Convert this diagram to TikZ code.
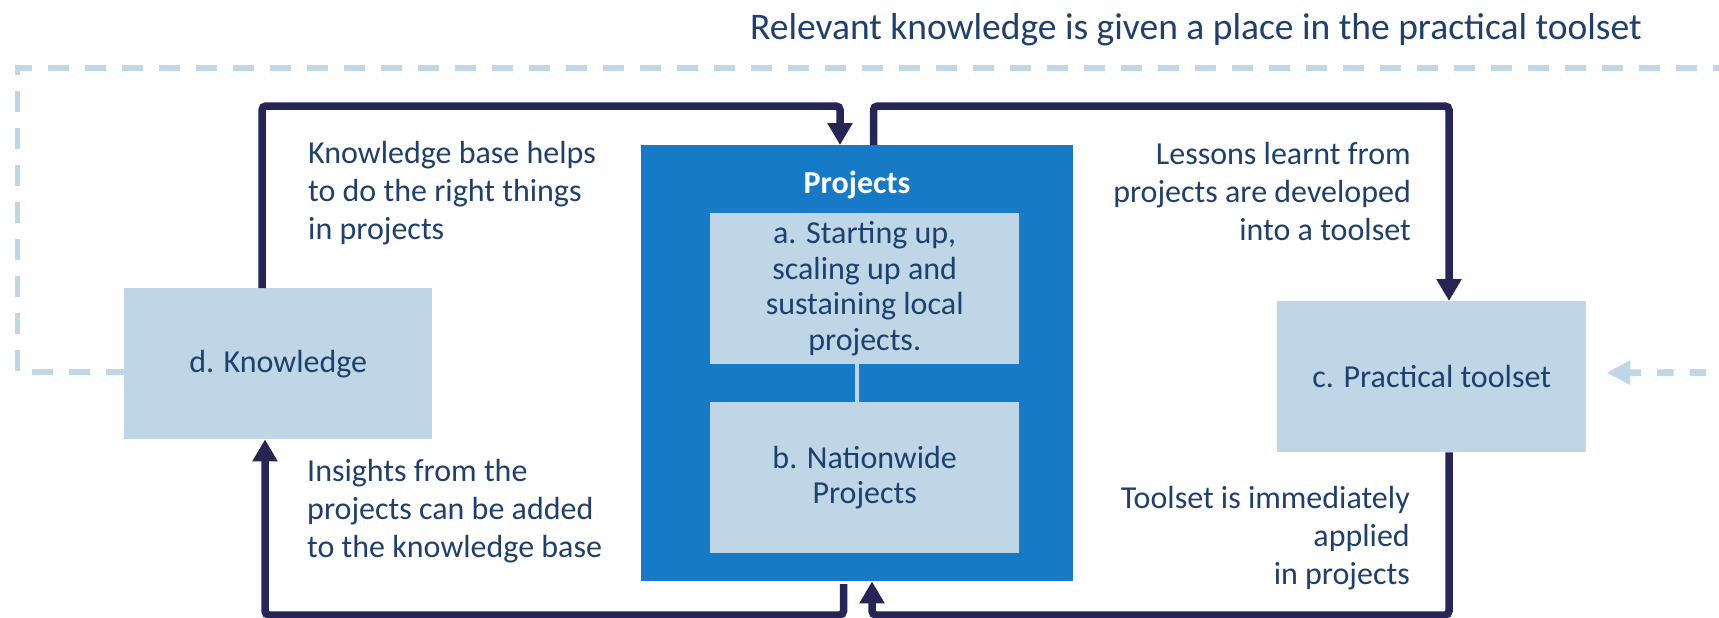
\documentclass[tikz,border=0pt]{standalone}
\usepackage{fontspec}
\setmainfont{Carlito}
\usetikzlibrary{arrows.meta}
\definecolor{navy}{HTML}{262556}
\definecolor{txtblue}{HTML}{1F3F6E}
\definecolor{projblue}{HTML}{167AC6}
\definecolor{paleblue}{HTML}{BFD6E6}

\begin{document}
\begin{tikzpicture}[x=1pt,y=-1pt,
  lightbox/.style={fill=paleblue, draw=none, minimum width=309pt, minimum height=151pt,
    inner sep=0pt, anchor=north west, text=txtblue,
    font=\fontsize{32}{35.5}\selectfont, align=center},
  flow/.style={draw=navy, line width=7.5pt, rounded corners=4pt,
    -{Triangle[length=22pt,width=24pt]}},
  feedback/.style={draw=paleblue, line width=5.5pt, dash pattern=on 21pt off 16pt},
  sidetext/.style={text=txtblue, inner sep=0pt, font=\fontsize{32}{38}\selectfont}
]
\useasboundingbox (0,0) rectangle (1719,618);

% title of the outer feedback loop
\node[anchor=base west, text=txtblue, inner sep=0pt, font=\fontsize{37.5}{44}\selectfont]
  (title) at (750,39.5) {Relevant knowledge is given a place in the practical toolset};

% boxes
\node[lightbox, minimum width=308pt] (d) at (124,288) {d. Knowledge};
\node[lightbox] (c) at (1277,301) {c. Practical toolset};
\node[fill=projblue, draw=none, minimum width=432pt, minimum height=436pt,
  inner sep=0pt, anchor=north west] (P) at (641,145) {};
\node[anchor=base, text=white, inner sep=0pt, font=\bfseries\fontsize{32}{38}\selectfont]
  (ptitle) at (857,193) {Projects};
\node[lightbox] (a) at (710,213) {a. Starting up,\\scaling up and\\sustaining local\\projects.};
\node[lightbox] (b) at (710,402) {b. Nationwide\\Projects};
\draw[draw=paleblue, line width=4pt] (a.south -| P.center) -- (b.north -| P.center);

% dashed feedback loop: knowledge -> practical toolset
\coordinate (fbcorner) at (17.5,68);
\coordinate (fbright) at (1725,68);
\draw[feedback, dash phase=3pt] ([yshift=-8.5pt]d.west) -| (fbcorner) -- (fbright);
\coordinate (fbin) at (1719,372.5);
\draw[draw=paleblue, line width=6.7pt, dash pattern=on 16.5pt off 16pt, dash phase=19.5pt,
  -{Triangle[length=24pt,width=23pt]}] (fbin) -- ([xshift=20pt,yshift=4pt]c.east);

% solid cycle arrows
\coordinate (k1) at (262,106);
\coordinate (k2) at (840,106);
\draw[flow] (d.north -| k1) -- (k1) -- (k2) -- (P.north -| k2);
\coordinate (k3) at (873.5,106);
\coordinate (k4) at (1449,106);
\draw[flow] (P.north -| k3) -- (k3) -- (k4) -- (c.north -| k4);
\coordinate (k5) at (1449,615);
\coordinate (k6) at (872,615);
\draw[flow] (c.south -| k5) -- (k5) -- (k6) -- (P.south -| k6);
\coordinate (k7s) at (843.5,584);
\coordinate (k7) at (843.5,615);
\coordinate (k8) at (265,615);
\draw[flow] (k7s) -- (k7) -- (k8) -- (d.south -| k8);

% arrow captions
\node[sidetext, anchor=base west] (t1) at (308,163)
  {\begin{tabular}[t]{@{}l@{}}Knowledge base helps\\to do the right things\\in projects\end{tabular}};
\node[sidetext, anchor=base east] (t2) at (1411,164)
  {\begin{tabular}[t]{@{}r@{}}Lessons learnt from\\projects are developed\\into a toolset\end{tabular}};
\node[sidetext, anchor=base west] (t3) at (307,481)
  {\begin{tabular}[t]{@{}l@{}}Insights from the\\projects can be added\\to the knowledge base\end{tabular}};
\node[sidetext, anchor=base east] (t4) at (1410,508)
  {\begin{tabular}[t]{@{}r@{}}Toolset is immediately\\applied\\in projects\end{tabular}};
\end{tikzpicture}
\end{document}
